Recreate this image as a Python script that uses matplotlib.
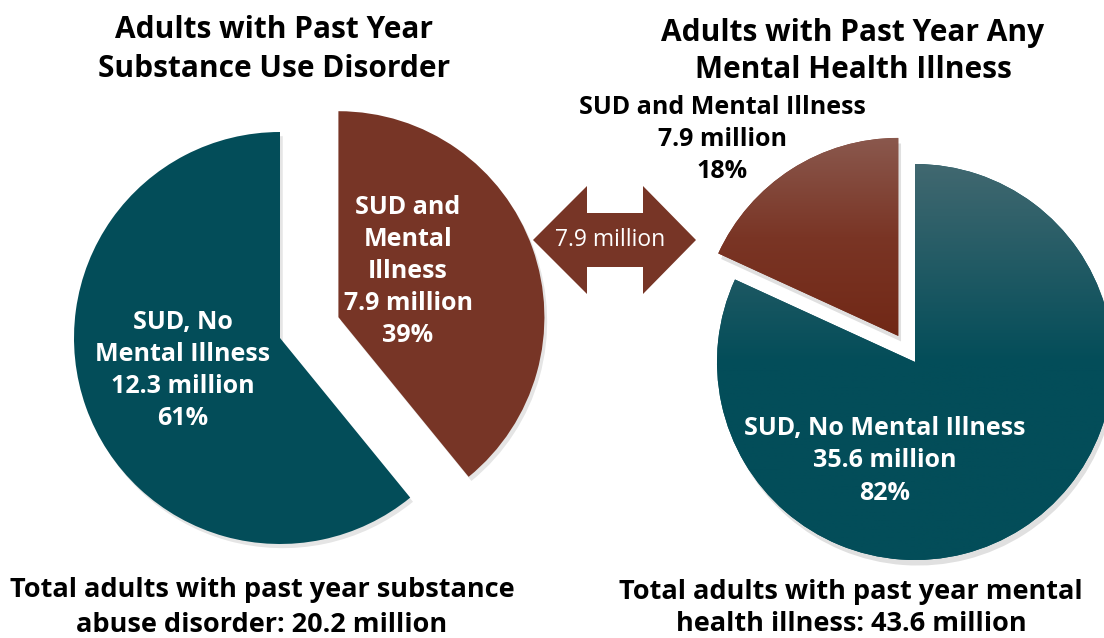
import matplotlib.pyplot as plt
import matplotlib.patches as mpatches
from matplotlib.colors import LinearSegmentedColormap
import numpy as np

plt.rcParams['font.family'] = ['Open Sans', 'DejaVu Sans']

W, H = 1104, 638

# data
left_names = ['SUD, No\nMental Illness', 'SUD and\nMental\nIllness']
left_values = [12.3, 7.9]
left_pcts = ['61%', '39%']
right_names = ['SUD and Mental Illness', 'SUD, No Mental Illness']
right_values = [7.9, 35.6]
right_pcts = ['18%', '82%']
left_total = 20.2
right_total = 43.6
shared = 7.9

teal = '#034d59'
brown = '#773526'

fig = plt.figure(figsize=(W / 100, H / 100), dpi=100)
ax = fig.add_axes([0, 0, 1, 1])
ax.set_xlim(0, W)
ax.set_ylim(0, H)
ax.axis('off')


def Y(y):
    # image row -> data y
    return H - y


def lines_at(x, y0, lines, step, **kw):
    for i, s in enumerate(lines):
        ax.text(x, Y(y0 + i * step), s, ha='center', va='center', **kw)


# left pie
r1 = 206
w1, _ = ax.pie(left_values, center=(280, Y(338)), radius=r1, startangle=90,
               counterclock=True, explode=[0, 62], colors=[teal, brown],
               wedgeprops=dict(linewidth=0),
               shadow=dict(ox=2, oy=-3, shade=0.0, alpha=0.1, color='k'))

# right pie
r2 = 198
w2, _ = ax.pie(right_values, center=(915, Y(362)), radius=r2, startangle=90,
               counterclock=True, explode=[31, 0], colors=[brown, teal],
               wedgeprops=dict(linewidth=0),
               shadow=dict(ox=2, oy=-4, shade=0.0, alpha=0.12, color='k'))

# vertical gradient on the right pie (bottom -> top of each wedge's circle)
grads = [([0, 0.5, 0.75, 1], ['#712816', '#712816', '#7a3525', '#8a584d']),
         ([0, 0.5, 1], ['#034d59', '#034d59', '#416870'])]
g = np.linspace(0, 1, 256).reshape(-1, 1)
for wd, (pos, cols) in zip(w2, grads):
    cm = LinearSegmentedColormap.from_list('g', list(zip(pos, cols)))
    cx, cy = wd.center
    im = ax.imshow(g, cmap=cm, origin='lower', aspect='auto',
                   extent=(cx - r2, cx + r2, cy - r2, cy + r2), zorder=3)
    im.set_clip_path(wd)
ax.set_xlim(0, W)
ax.set_ylim(0, H)

# double arrow between the pies
ax_pts = [(533, 240), (587, 186), (587, 213), (643, 213), (643, 186), (696, 240),
          (643, 294), (643, 267), (587, 267), (587, 294)]
ax.add_patch(mpatches.Polygon([(x, Y(y)) for x, y in ax_pts], closed=True,
                              facecolor=brown, edgecolor='none', zorder=4))
ax.text(610, Y(240), f'{shared} million', ha='center', va='center',
        color='white', fontsize=16.5, zorder=5)

# titles
tt = dict(fontsize=21.5, fontweight='bold', color='black')
lines_at(274, 30, ['Adults with Past Year', 'Substance Use Disorder'], 39, **tt)
lines_at(853, 33, ['Adults with Past Year Any', 'Mental Health Illness'], 37, **tt)

# slice labels
lab = dict(fontsize=18, fontweight='bold', color='white', zorder=6)
lines_at(183, 323, left_names[0].split('\n') + [f'{left_values[0]} million', left_pcts[0]], 31.7, **lab)
lines_at(408, 207, left_names[1].split('\n') + [f'{left_values[1]} million', left_pcts[1]], 32, **lab)
lines_at(885, 428, [right_names[1], f'{right_values[1]} million', right_pcts[1]], 32.5, **lab)
lines_at(722, 107, [right_names[0], f'{right_values[0]} million', right_pcts[0]], 32,
         fontsize=18, fontweight='bold', color='black')

# totals
bt = dict(fontsize=19.5, fontweight='bold', color='black')
lines_at(262, 590, ['Total adults with past year substance',
                    f'abuse disorder: {left_total} million'], 35, **bt)
lines_at(851, 592, ['Total adults with past year mental',
                    f'health illness: {right_total} million'], 32, **bt)

fig.savefig('out.png', dpi=100)
